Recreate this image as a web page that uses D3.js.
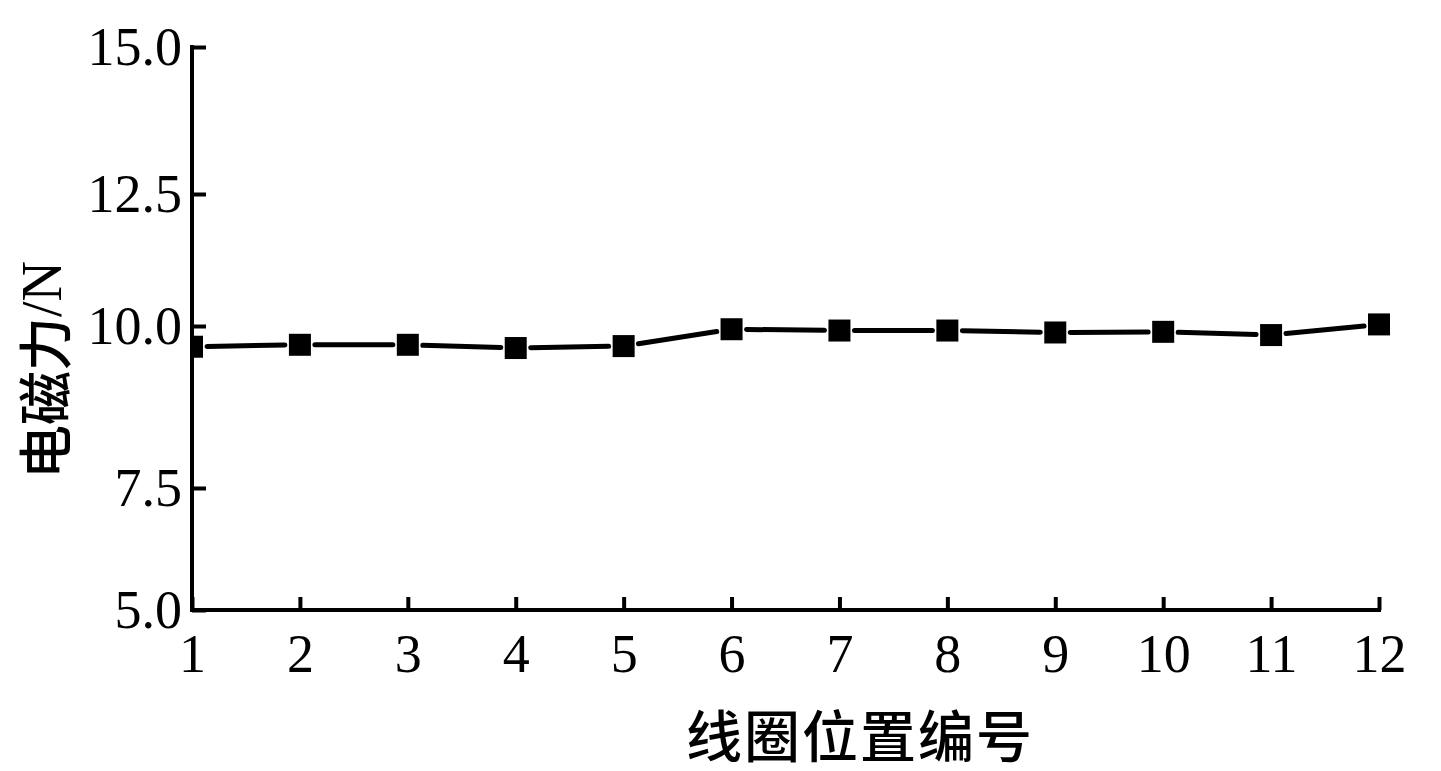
<!DOCTYPE html>
<html>
<head>
<meta charset="utf-8">
<script src="https://cdn.jsdelivr.net/npm/d3@7"></script>
<style>
    body { margin: 0; background: #fff; }
    svg { display: block; }
</style>
</head>
<body>
<div id="chart"></div>
<script>
// 线圈位置编号
var coilIds = [1, 2, 3, 4, 5, 6, 7, 8, 9, 10, 11, 12];
// 电磁力 (N)
var forceValues = [9.68, 9.71, 9.71, 9.66, 9.69, 9.95, 9.93, 9.93, 9.9, 9.91, 9.86, 10.03];
// y轴刻度
var yTickValues = [5.0, 7.5, 10.0, 12.5, 15.0];
var xTitle = '线圈位置编号';
var yTitle = '电磁力';
var yUnit = '/N';

var width = 1441, height = 771;
// 绘图区边界 (不能用 top 做变量名, window.top 只读)
var plotLeft = 192, plotRight = 1379, plotTop = 47, plotBottom = 610;
var markerSize = 22;    //方块边长
var gap = 4;            //连线和方块之间的空白

var svg = d3.select('#chart').append('svg')
    .attr('width', width)
    .attr('height', height);

var x = d3.scaleLinear().domain([1, 12]).range([plotLeft, plotRight]);
// 原图的刻度间距不均匀，按刻度分段
var y = d3.scaleLinear().domain(yTickValues).range([plotBottom, 488, 326, 194, plotTop]);

svg.append('defs').append('clipPath').attr('id', 'plotClip')
    .append('rect')
    .attr('x', plotLeft).attr('y', plotTop - 20)
    .attr('width', plotRight - plotLeft + 20).attr('height', plotBottom - plotTop + 20);

//x轴
var xAxis = svg.append('g')
    .attr('transform', 'translate(0,' + plotBottom + ')')
    .call(d3.axisBottom(x).tickValues(coilIds).tickSize(-13).tickFormat(d3.format('d')));
xAxis.select('.domain').attr('d', 'M' + plotLeft + ',0H' + plotRight);
xAxis.selectAll('.tick line').attr('stroke-width', 4);
xAxis.selectAll('text')
    .attr('y', 62).attr('dy', 0)
    .style('font-family', '"Liberation Serif", "Times New Roman", serif')
    .style('font-size', '54px')
    .attr('fill', '#000');

//y轴
var yAxis = svg.append('g')
    .attr('transform', 'translate(' + plotLeft + ',0)')
    .call(d3.axisLeft(y).tickValues(yTickValues).tickSize(-14).tickPadding(10).tickFormat(d3.format('.1f')));
yAxis.select('.domain').attr('d', 'M0,' + plotTop + 'V' + plotBottom);
yAxis.selectAll('.tick line').attr('stroke-width', 4);
yAxis.selectAll('text')
    .style('font-family', '"Liberation Serif", "Times New Roman", serif')
    .style('font-size', '54px')
    .attr('fill', '#000');

svg.selectAll('.domain').attr('stroke', '#000').attr('stroke-width', 4).attr('stroke-linecap', 'square');

var pts = coilIds.map(function (d, i) {
    return [x(d), y(forceValues[i])];
});

//连线，两端留空
var segs = d3.pairs(pts).map(function (p) {
    var dx = p[1][0] - p[0][0], dy = p[1][1] - p[0][1];
    var len = Math.sqrt(dx * dx + dy * dy);
    var off = markerSize / 2 + gap;
    return [
        [p[0][0] + dx * off / len, p[0][1] + dy * off / len],
        [p[1][0] - dx * off / len, p[1][1] - dy * off / len]
    ];
});

var plot = svg.append('g').attr('clip-path', 'url(#plotClip)');

plot.selectAll('line.seg').data(segs)
    .enter().append('line')
    .attr('class', 'seg')
    .attr('x1', function (d) { return d[0][0]; })
    .attr('y1', function (d) { return d[0][1]; })
    .attr('x2', function (d) { return d[1][0]; })
    .attr('y2', function (d) { return d[1][1]; })
    .attr('stroke', '#000')
    .attr('stroke-width', 5)
    .attr('stroke-linecap', 'round');

plot.selectAll('rect.marker').data(pts)
    .enter().append('rect')
    .attr('class', 'marker')
    .attr('x', function (d) { return d[0] - markerSize / 2; })
    .attr('y', function (d) { return d[1] - markerSize / 2; })
    .attr('width', markerSize)
    .attr('height', markerSize)
    .attr('fill', '#000');

//轴标题
svg.append('text')
    .attr('x', 860).attr('y', 732)
    .attr('text-anchor', 'middle')
    .attr('dominant-baseline', 'central')
    .style('font-family', '"Noto Sans CJK SC", sans-serif')
    .style('font-weight', 500)
    .style('font-size', '56px')
    .style('letter-spacing', '2px')
    .attr('fill', '#000')
    .text(xTitle);

var yt = svg.append('text')
    .attr('transform', 'translate(42,370)rotate(-90)')
    .attr('text-anchor', 'middle')
    .attr('dominant-baseline', 'central')
    .style('font-family', '"Noto Sans CJK SC", sans-serif')
    .style('font-weight', 500)
    .style('font-size', '54px')
    .attr('fill', '#000');
yt.append('tspan').text(yTitle);
yt.append('tspan')
    .style('font-family', '"Liberation Serif", "Times New Roman", serif')
    .style('font-weight', 400)
    .style('font-size', '56px')
    .text(yUnit);
</script>
</body>
</html>
